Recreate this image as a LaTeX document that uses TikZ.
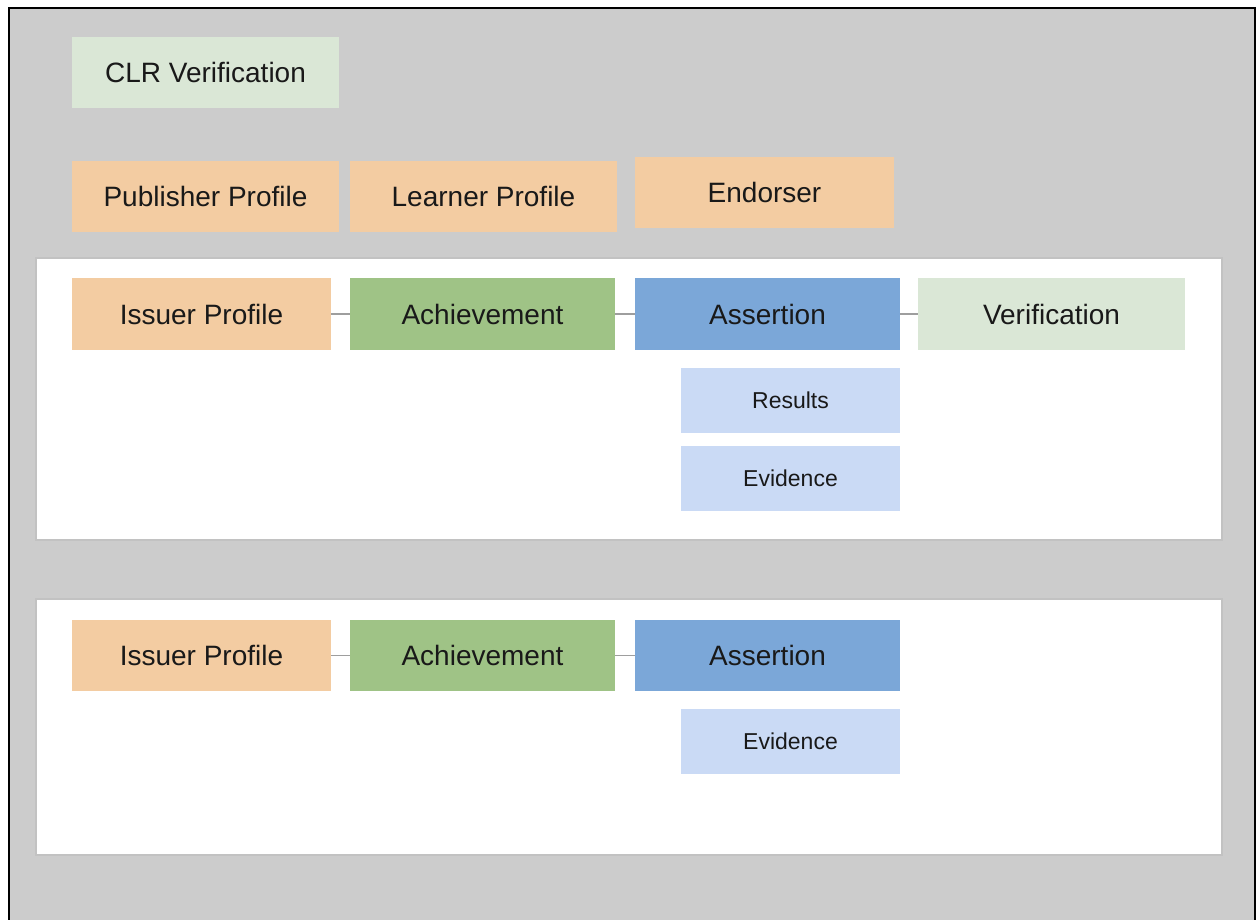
\documentclass[tikz,border=0pt]{standalone}
\usepackage{fontspec}
\setmainfont{Liberation Sans}
\definecolor{bggray}{HTML}{CCCCCC}
\definecolor{orangebox}{HTML}{F3CCA2}
\definecolor{greenbox}{HTML}{9FC386}
\definecolor{bluebox}{HTML}{7BA7D8}
\definecolor{lgreen}{HTML}{DAE7D6}
\definecolor{lblue}{HTML}{CADAF5}
\definecolor{paneledge}{HTML}{C2C2C2}
\definecolor{linkgray}{HTML}{9E9E9E}
\begin{document}
\begin{tikzpicture}[x=1pt,y=-1pt,
  box/.style={anchor=north west, inner sep=0pt, outer sep=0pt, font=\fontsize{28}{32}\selectfont, text=black!90},
  smallbox/.style={box, font=\fontsize{23}{27}\selectfont},
  link/.style={draw=linkgray, line width=1.5pt},
  panel/.style={fill=white, draw=paneledge, line width=1.2pt}
]
\useasboundingbox (0,0) rectangle (1256,920);
\fill[white] (0,0) rectangle (1256,920);
\fill[bggray] (9,8) rectangle (1255,920);
\draw[black, line width=2.5pt] (9,921) -- (9,8) -- (1255,8) -- (1255,921);

% panels
\draw[panel] (36,258) rectangle (1222,540);
\draw[panel] (36,599) rectangle (1222,855);

% top boxes
\node[box, fill=lgreen, minimum width=267pt, minimum height=71pt] (clr) at (72,37) {CLR Verification};
\node[box, fill=orangebox, minimum width=267pt, minimum height=71pt] (pub) at (72,161) {Publisher Profile};
\node[box, fill=orangebox, minimum width=267pt, minimum height=71pt] (learn) at (350,161) {Learner Profile};
\node[box, fill=orangebox, minimum width=259pt, minimum height=71pt] (endo) at (635,157) {Endorser};

% panel 1
\node[box, fill=orangebox, minimum width=259pt, minimum height=72pt] (iss1) at (72,278) {Issuer Profile};
\node[box, fill=greenbox, minimum width=265pt, minimum height=72pt] (ach1) at (350,278) {Achievement};
\node[box, fill=bluebox, minimum width=265pt, minimum height=72pt] (ass1) at (635,278) {Assertion};
\node[box, fill=lgreen, minimum width=267pt, minimum height=72pt] (ver1) at (918,278) {Verification};
\node[smallbox, fill=lblue, minimum width=219pt, minimum height=65pt] (res1) at (681,368) {Results};
\node[smallbox, fill=lblue, minimum width=219pt, minimum height=65pt] (evi1) at (681,446) {Evidence};
\draw[link] (iss1.east) -- (ach1.west);
\draw[link] (ach1.east) -- (ass1.west);
\draw[link] (ass1.east) -- (ver1.west);

% panel 2
\node[box, fill=orangebox, minimum width=259pt, minimum height=71pt] (iss2) at (72,620) {Issuer Profile};
\node[box, fill=greenbox, minimum width=265pt, minimum height=71pt] (ach2) at (350,620) {Achievement};
\node[box, fill=bluebox, minimum width=265pt, minimum height=71pt] (ass2) at (635,620) {Assertion};
\node[smallbox, fill=lblue, minimum width=219pt, minimum height=65pt] (evi2) at (681,709) {Evidence};
\draw[link] (iss2.east) -- (ach2.west);
\draw[link] (ach2.east) -- (ass2.west);
\end{tikzpicture}
\end{document}
